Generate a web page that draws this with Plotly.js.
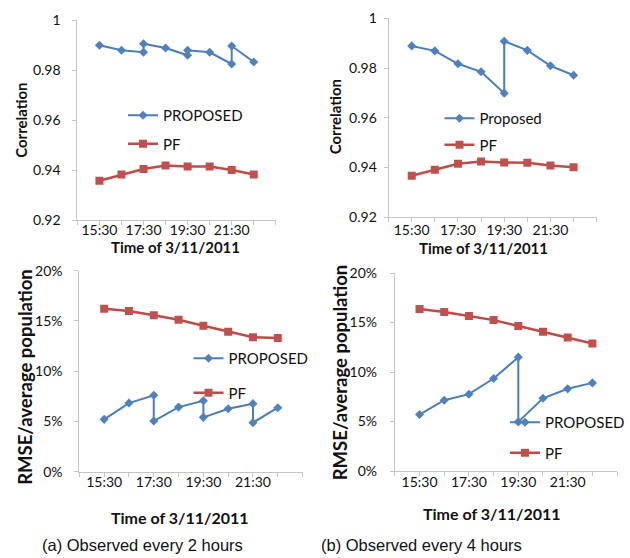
<!DOCTYPE html>
<html>
<head>
<meta charset="utf-8">
<script src="https://cdn.plot.ly/plotly-3.0.1.min.js"></script>
<style>html,body{margin:0;padding:0;background:#fff;}#chart{width:630px;height:558px;}</style>
</head>
<body>
<div id="chart"></div>
<script>
// ---- data (hours of 3/11/2011; 15.5 = 15:30) ----
const tickHours = [15.5, 17.5, 19.5, 21.5];
const tickLabels = ['15:30', '17:30', '19:30', '21:30'];
const pfHours = [15.5, 16.5, 17.5, 18.5, 19.5, 20.5, 21.5, 22.5];

// (a) observed every 2 hours
const corrA_hours = [15.5, 16.5, 17.5, 17.5, 18.5, 19.5, 19.5, 20.5, 21.5, 21.5, 22.5];
const corrA_proposed = [0.9899, 0.9879, 0.9871, 0.9905, 0.9888, 0.9859, 0.9879, 0.9871, 0.9824, 0.9896, 0.9832];
const corrA_pf = [0.9357, 0.9382, 0.9404, 0.9418, 0.9414, 0.9414, 0.9400, 0.9382];
const rmseA_hours = [15.5, 16.5, 17.5, 17.5, 18.5, 19.5, 19.5, 20.5, 21.5, 21.5, 22.5];
const rmseA_proposed = [5.21, 6.83, 7.60, 5.04, 6.43, 7.06, 5.41, 6.27, 6.77, 4.88, 6.37];
const rmseA_pf = [16.22, 15.99, 15.56, 15.12, 14.53, 13.93, 13.37, 13.30];

// (b) observed every 4 hours
const corrB_hours = [15.5, 16.5, 17.5, 18.5, 19.5, 19.5, 20.5, 21.5, 22.5];
const corrB_proposed = [0.9889, 0.9869, 0.9817, 0.9785, 0.9699, 0.9908, 0.9871, 0.9809, 0.9771];
const corrB_pf = [0.9367, 0.9391, 0.9415, 0.9424, 0.9420, 0.9419, 0.9408, 0.9401];
const rmseB_hours = [15.5, 16.5, 17.5, 18.5, 19.5, 19.5, 20.5, 21.5, 22.5];
const rmseB_proposed = [5.70, 7.15, 7.76, 9.34, 11.50, 4.96, 7.35, 8.30, 8.90];
const rmseB_pf = [16.36, 16.05, 15.65, 15.24, 14.64, 14.06, 13.49, 12.88];

// ---- styling / layout ----
const W = 630, H = 558;
const BLUE = '#4a7ebb', BLUE_M = '#4f81bd', RED = '#be4b48', RED_M = '#c0504d';
const FONT = 'Lato, "DejaVu Sans", sans-serif';
const AXC = '#c4c4c4';

function xd(a, b) { return [a / W, b / W]; }
function yd(top, bottom) { return [1 - bottom / H, 1 - top / H]; }

function prop(x, y, xa, ya, leg, name) {
  return {x: x, y: y, xaxis: xa, yaxis: ya, name: name, legend: leg, legendgroup: leg + 'p',
    type: 'scatter', mode: 'lines+markers',
    line: {color: BLUE, width: 2}, marker: {symbol: 'diamond', size: 7, color: BLUE_M}};
}
function pf(x, y, xa, ya, leg) {
  return {x: x, y: y, xaxis: xa, yaxis: ya, name: 'PF', legend: leg, legendgroup: leg + 'f',
    type: 'scatter', mode: 'lines+markers',
    line: {color: RED, width: 2.5}, marker: {symbol: 'square', size: 8, color: RED_M}};
}

const data = [
  prop(corrA_hours, corrA_proposed, 'x', 'y', 'legend', 'PROPOSED'),
  pf(pfHours, corrA_pf, 'x', 'y', 'legend'),
  prop(corrB_hours, corrB_proposed, 'x2', 'y2', 'legend2', 'Proposed'),
  pf(pfHours, corrB_pf, 'x2', 'y2', 'legend2'),
  prop(rmseA_hours, rmseA_proposed, 'x3', 'y3', 'legend3', 'PROPOSED'),
  pf(pfHours, rmseA_pf, 'x3', 'y3', 'legend3'),
  prop(rmseB_hours, rmseB_proposed, 'x4', 'y4', 'legend4', 'PROPOSED'),
  pf(pfHours, rmseB_pf, 'x4', 'y4', 'legend4')
];

function xaxis(domain, anchor, standoff) {
  return {domain: domain, anchor: anchor, range: [14.5, 23.5], showgrid: false, zeroline: false,
    showline: true, linecolor: AXC, linewidth: 1,
    tickmode: 'array', tickvals: tickHours, ticktext: tickLabels,
    ticks: 'outside', ticklen: 4, tickcolor: AXC, ticklabelstandoff: standoff,
    minor: {tickmode: 'linear', tick0: 14.5, dtick: 1, ticks: 'outside', ticklen: 4, tickcolor: AXC},
    tickfont: {family: FONT, size: 14, color: '#111'}, fixedrange: true};
}
function yaxis(domain, anchor, range, dtick, suffix, standoff) {
  return {domain: domain, anchor: anchor, range: range, dtick: dtick, tick0: 0, ticksuffix: suffix,
    showgrid: false, zeroline: false, showline: true, linecolor: AXC, linewidth: 1,
    ticks: 'outside', ticklen: 4, tickcolor: AXC, ticklabelstandoff: standoff,
    tickfont: {family: FONT, size: 14, color: '#111'}, fixedrange: true};
}
function legend(textX, rowY, gap) {
  return {x: (textX - 40) / W, y: 1 - (rowY - 16) / H, xanchor: 'left', yanchor: 'top',
    bgcolor: 'rgba(0,0,0,0)', borderwidth: 0, traceorder: 'grouped', tracegroupgap: gap,
    font: {family: FONT, size: 15, color: '#111'}};
}
function ann(text, x, y, size, rot, fam, bold) {
  return {text: bold ? '<b>' + text + '</b>' : text, x: x / W, y: 1 - y / H, xref: 'paper', yref: 'paper',
    xanchor: 'center', yanchor: 'middle', showarrow: false, textangle: rot || 0,
    font: {family: fam || FONT, size: size, color: '#111'}};
}

const layout = {
  width: W, height: H, margin: {l: 0, r: 0, t: 0, b: 0},
  paper_bgcolor: '#fff', plot_bgcolor: '#fff', showlegend: true,
  xaxis: xaxis(xd(78, 278), 'y', -7),
  yaxis: yaxis(yd(20, 220), 'x', [0.92, 1], 0.02, '', 9),
  xaxis2: xaxis(xd(391.7, 601.5), 'y2', -4),
  yaxis2: yaxis(yd(18.3, 217.3), 'x2', [0.92, 1], 0.02, '', 4),
  xaxis3: xaxis(xd(80, 305), 'y3', -7),
  yaxis3: yaxis(yd(270.7, 471.7), 'x3', [0, 20], 5, '%', 9),
  xaxis4: xaxis(xd(398, 622), 'y4', -6),
  yaxis4: yaxis(yd(273, 471), 'x4', [0, 20], 5, '%', 10),
  legend: legend(164, 115, 6),
  legend2: legend(483, 118, 4),
  legend3: legend(230, 358, 12),
  legend4: legend(549, 422, 8),
  annotations: [
    ann('Correlation', 21, 120, 15, -90, FONT, true),
    ann('Correlation', 338, 117, 15, -90, FONT, true),
    ann('RMSE/average population', 25, 377, 18.5, -90, FONT, true),
    ann('RMSE/average population', 343, 372, 18.5, -90, FONT, true),
    ann('Time of 3/11/2011', 177, 247, 15, 0, FONT, true),
    ann('Time of 3/11/2011', 487, 248, 15, 0, FONT, true),
    ann('Time of 3/11/2011', 181, 517, 16, 0, FONT, true),
    ann('Time of 3/11/2011', 496, 513, 16, 0, FONT, true),
    ann('(a) Observed every 2 hours', 144, 545, 16.5, 0, '"Liberation Sans", Arial, sans-serif', false),
    ann('(b) Observed every 4 hours', 425, 545, 16.5, 0, '"Liberation Sans", Arial, sans-serif', false)
  ]
};

Plotly.newPlot('chart', data, layout, {displayModeBar: false, staticPlot: true});
</script>
</body>
</html>
